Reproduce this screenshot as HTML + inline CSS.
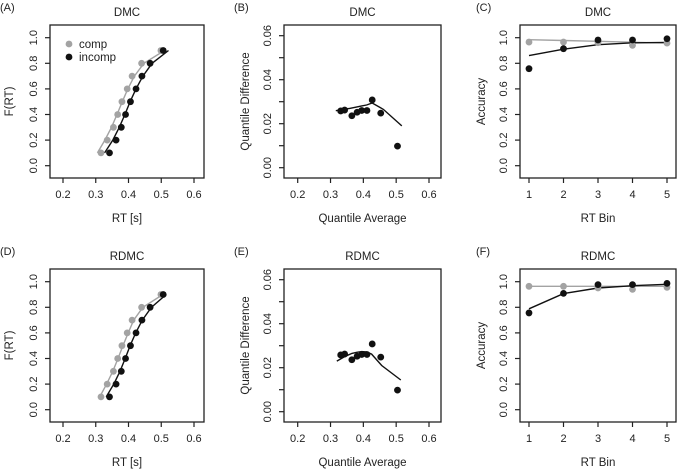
<!DOCTYPE html>
<html><head><meta charset="utf-8"><style>
html,body{margin:0;padding:0;background:#fff;}
svg{display:block;font-family:"Liberation Sans",Arial,sans-serif;}
</style></head><body>
<svg id="fig" width="677" height="470" viewBox="0 0 677 470"></svg>
<script>
// ---- data ----
const quantiles = [0.1,0.2,0.3,0.4,0.5,0.6,0.7,0.8,0.9];
const dmcCompObs   = [0.316,0.335,0.354,0.367,0.380,0.396,0.411,0.440,0.499];
const dmcIncompObs = [0.342,0.362,0.378,0.391,0.406,0.423,0.441,0.466,0.506];
const dmcCompMod   = [0.305,0.328,0.348,0.365,0.381,0.398,0.418,0.447,0.510];
const dmcIncompMod = [0.327,0.352,0.372,0.389,0.405,0.423,0.444,0.472,0.522];
const rdmcCompMod  = [0.312,0.333,0.352,0.368,0.383,0.399,0.416,0.444,0.505];
const rdmcIncompMod= [0.332,0.355,0.374,0.390,0.405,0.422,0.442,0.470,0.515];
const deltaObsX = [0.331,0.343,0.365,0.381,0.395,0.411,0.427,0.453,0.504];
const deltaObsY = [0.0258,0.0262,0.0236,0.0252,0.026,0.026,0.0308,0.0248,0.0098];
const dmcDeltaModX = [0.316,0.340,0.360,0.377,0.393,0.410,0.427,0.461,0.517];
const dmcDeltaModY = [0.0259,0.0265,0.0270,0.0275,0.0280,0.0285,0.0294,0.0265,0.019];
const rdmcDeltaModX = [0.319,0.345,0.365,0.380,0.395,0.410,0.425,0.456,0.514];
const rdmcDeltaModY = [0.023,0.0252,0.0265,0.027,0.0273,0.0272,0.0262,0.021,0.0144];
const bins = [1,2,3,4,5];
const dmcCafCompObs   = [0.966,0.966,0.961,0.940,0.958];
const dmcCafIncompObs = [0.758,0.914,0.982,0.982,0.992];
const dmcCafCompMod   = [0.984,0.978,0.972,0.965,0.958];
const dmcCafIncompMod = [0.860,0.910,0.945,0.960,0.963];
const rdmcCafCompObs   = [0.964,0.964,0.951,0.940,0.956];
const rdmcCafIncompObs = [0.756,0.909,0.977,0.977,0.987];
const rdmcCafCompMod   = [0.964,0.964,0.964,0.964,0.964];
const rdmcCafIncompMod = [0.788,0.907,0.951,0.969,0.980];
const rtTicks = [0.2,0.3,0.4,0.5,0.6];
const fTicks = [0.0,0.2,0.4,0.6,0.8,1.0];
const dTicks = [0.00,0.01,0.02,0.03,0.04,0.05,0.06];
const dTickLabels = ["0.00","","0.02","","0.04","","0.06"];

const NS="http://www.w3.org/2000/svg";
const svg=document.getElementById('fig');
const GRAY="#a3a3a3", BLACK="#111";
function mk(tag,attrs,parent){const e=document.createElementNS(NS,tag);for(const k in attrs)e.setAttribute(k,attrs[k]);(parent||svg).appendChild(e);return e;}
function txt(s,x,y,opt,parent){const t=mk('text',Object.assign({x:x,y:y,'font-size':11,'text-anchor':'middle',fill:'#222'},opt||{}),parent);t.textContent=s;return t;}

function panel(cfg){
  const g=mk('g',{});
  
  
  const oy=cfg.oy;
  const top=25+oy, bot=178+oy, L=cfg.L, R=cfg.R;
  const sx=v=>cfg.x0px+(v-cfg.x0)*(cfg.x1px-cfg.x0px)/(cfg.x1-cfg.x0);
  const sy=v=>cfg.y0px+oy+(v-cfg.y0)*(cfg.y1px-cfg.y0px)/(cfg.y1-cfg.y0);
  const box=mk('rect',{x:L,y:top,width:R-L,height:bot-top,fill:'none',stroke:'#222','stroke-width':1.3},g);
  
  
  // x ticks
  cfg.xt.forEach((v,i)=>{
    mk('line',{x1:sx(v),x2:sx(v),y1:bot,y2:bot+5,stroke:'#222','stroke-width':1.2},g);
    const t=txt(cfg.xtl[i],sx(v),bot+20,{},g);
    
    
  });
  cfg.yt.forEach((v,i)=>{
    mk('line',{x1:L-5,x2:L,y1:sy(v),y2:sy(v),stroke:'#222','stroke-width':1.2},g);
    const lab=cfg.ytl[i];
    if(lab!==""){
      const t=txt(lab,0,0,{transform:`translate(${L-13},${sy(v)}) rotate(-90)`},g);
      
      
    }
  });
  const tt=txt(cfg.title,(L+R)/2,16+oy,{'font-size':11.5},g);
  
  
  const pl=txt(cfg.letter,cfg.letterX,11+oy,{'text-anchor':'start'},g);
  
  
  const xl=txt(cfg.xlab,(L+R)/2,222+oy,{'font-size':11.5},g);
  
  
  const yl=txt(cfg.ylab,0,0,{'font-size':11.5,transform:`translate(${cfg.ylabX},${(top+bot)/2}) rotate(-90)`},g);
  
  
  cfg.series.forEach(s=>{
    if(s.type==='line'){
      const pts=s.x.map((v,i)=>sx(v).toFixed(1)+','+sy(s.y[i]).toFixed(1)).join(' ');
      const p=mk('polyline',{points:pts,fill:'none',stroke:s.color,'stroke-width':1.4},g);
      
      
    } else {
      s.x.forEach((v,i)=>{
        const c=mk('circle',{cx:sx(v),cy:sy(s.y[i]),r:3.4,fill:s.color},g);
        
        
      });
    }
  });
  return {g,sx,sy};
}

function cdfPanel(oy,letter,title,compMod,incompMod,legend){
  const p=panel({name:'cdf-panel-'+letter,oy,L:50,R:204,x0:0.2,x1:0.6,x0px:63,x1px:194,y0:0,y1:1,y0px:165.7,y1px:37.7,
    xt:rtTicks,xtl:rtTicks.map(v=>v.toFixed(1)),yt:fTicks,ytl:fTicks.map(v=>v.toFixed(1)),
    title,letter:'('+letter+')',letterX:0,xlab:'RT [s]',ylab:'F(RT)',ylabX:13,
    series:[
      {type:'line',x:compMod,y:quantiles,color:GRAY,name:'comp-model-line'},
      {type:'line',x:incompMod,y:quantiles,color:BLACK,name:'incomp-model-line'},
      {type:'pts',x:dmcCompObs,y:quantiles,color:GRAY,name:'comp-point'},
      {type:'pts',x:dmcIncompObs,y:quantiles,color:BLACK,name:'incomp-point'}]});
  if(legend){
    const lg=mk('g',{},p.g);
    
    
    mk('circle',{cx:69,cy:44+oy,r:3.4,fill:GRAY},lg);
    txt('comp',79,48+oy,{'text-anchor':'start','font-size':11.5},lg);
    mk('circle',{cx:69,cy:57+oy,r:3.4,fill:BLACK},lg);
    txt('incomp',79,61+oy,{'text-anchor':'start','font-size':11.5},lg);
  }
}
function deltaPanel(oy,letter,title,mx,my){
  panel({name:'delta-panel-'+letter,oy,L:284,R:441,x0:0.2,x1:0.6,x0px:297.7,x1px:429,y0:0,y1:0.06,y0px:167.7,y1px:35.7,
    xt:rtTicks,xtl:rtTicks.map(v=>v.toFixed(1)),yt:dTicks,ytl:dTickLabels,
    title,letter:'('+letter+')',letterX:234,xlab:'Quantile Average',ylab:'Quantile Difference',ylabX:249,
    series:[{type:'line',x:mx,y:my,color:BLACK,name:'delta-model-line'},
            {type:'pts',x:deltaObsX,y:deltaObsY,color:BLACK,name:'delta-point'}]});
}
function cafPanel(oy,letter,title,co,io,cm,im){
  panel({name:'caf-panel-'+letter,oy,L:520,R:676,x0:1,x1:5,x0px:529,x1px:667,y0:0,y1:1,y0px:165.7,y1px:37.7,
    xt:bins,xtl:bins.map(String),yt:fTicks,ytl:fTicks.map(v=>v.toFixed(1)),
    title,letter:'('+letter+')',letterX:476,xlab:'RT Bin',ylab:'Accuracy',ylabX:485,
    series:[{type:'line',x:bins,y:cm,color:GRAY,name:'comp-model-line'},
            {type:'line',x:bins,y:im,color:BLACK,name:'incomp-model-line'},
            {type:'pts',x:bins,y:co,color:GRAY,name:'comp-point'},
            {type:'pts',x:bins,y:io,color:BLACK,name:'incomp-point'}]});
}
cdfPanel(0,'A','DMC',dmcCompMod,dmcIncompMod,true);
deltaPanel(0,'B','DMC',dmcDeltaModX,dmcDeltaModY);
cafPanel(0,'C','DMC',dmcCafCompObs,dmcCafIncompObs,dmcCafCompMod,dmcCafIncompMod);
cdfPanel(244,'D','RDMC',rdmcCompMod,rdmcIncompMod,false);
deltaPanel(244,'E','RDMC',rdmcDeltaModX,rdmcDeltaModY);
cafPanel(244,'F','RDMC',rdmcCafCompObs,rdmcCafIncompObs,rdmcCafCompMod,rdmcCafIncompMod);
</script>
</body></html>
